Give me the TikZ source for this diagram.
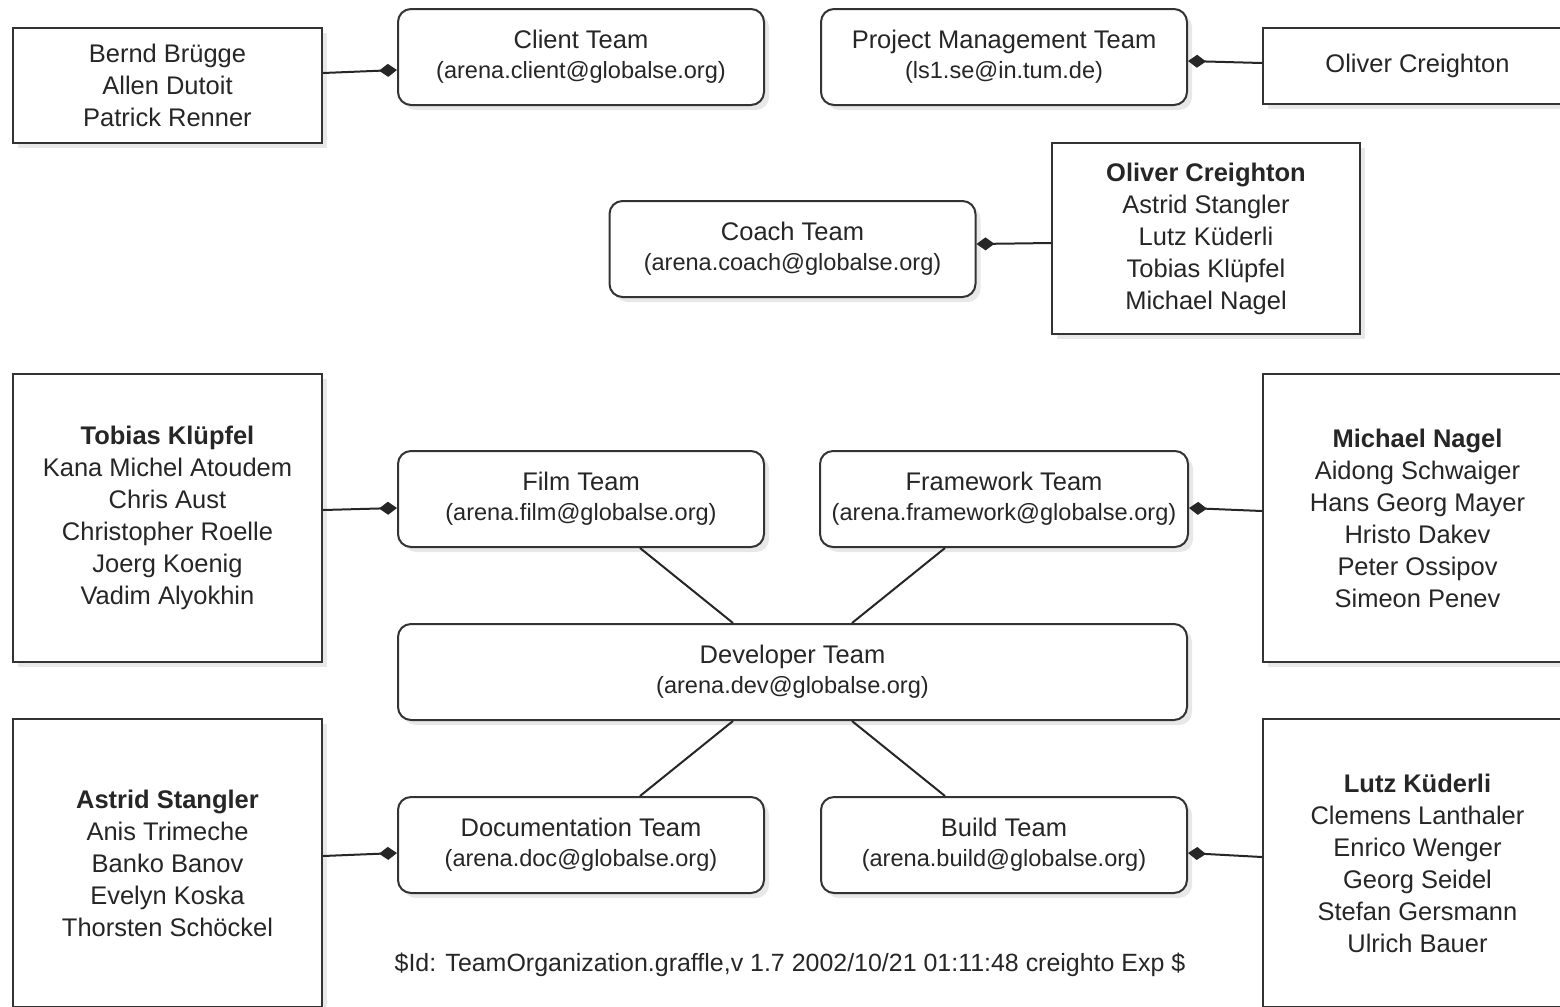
\documentclass[tikz,border=0pt]{standalone}
\usepackage{fontspec}
\setmainfont{Liberation Sans}
\usetikzlibrary{arrows.meta,shadows,calc}

\begin{document}
\begin{tikzpicture}[x=0.1mm, y=-0.1mm]

\tikzstyle{team} = [rectangle, rounded corners=1.3mm, minimum width=36.6mm, minimum height=9.6mm, text centered, align=center, draw=black!80, line width=0.2mm, fill=white, text=black!85, font=\fontsize{7.25}{8.5}\selectfont, drop shadow={shadow xshift=0.5mm, shadow yshift=-0.5mm, opacity=0.18}]
\tikzstyle{people} = [rectangle, minimum width=30.9mm, text centered, align=center, draw=black!80, line width=0.2mm, fill=white, text=black!85, font=\fontsize{7.25}{9.1}\selectfont, drop shadow={shadow xshift=0.5mm, shadow yshift=-0.5mm, opacity=0.18}]
\tikzstyle{member} = [line width=0.2mm, draw=black!85, -{Diamond[length=1.8mm, width=1.3mm]}]
\tikzstyle{sub} = [line width=0.2mm, draw=black!85]

\newcommand{\mail}[1]{{\fontsize{6.7}{8.5}\selectfont #1}}

\useasboundingbox (0,0) rectangle (1560,1006);
\clip (0,0) rectangle (1560,1006);

%% ------------------
%% -- MANAGEMENT    --
%% ------------------

% client and project management
\node (bernd) 		[people, minimum height=11.5mm] at (167.5,85.5) {Bernd Brügge\\Allen Dutoit\\Patrick Renner};
\node (client) 		[team] at (581,57) {Client Team\\\mail{(arena.client@globalse.org)}};
\node (pm) 			[team] at (1004,57) {Project Management Team\\\mail{(ls1.se@in.tum.de)}};
\node (oliver) 		[people, minimum height=7.6mm] at (1417.5,66) {Oliver Creighton};

% coaches
\node (coach) 		[team] at (792.5,249) {Coach Team\\\mail{(arena.coach@globalse.org)}};
\node (coaches) 	[people, minimum width=30.8mm, minimum height=19.1mm] at (1206,238.5) {\textbf{Oliver Creighton}\\Astrid Stangler\\Lutz Küderli\\Tobias Klüpfel\\Michael Nagel};

%% ------------------
%% -- DEVELOPMENT   --
%% ------------------

\node (tobias) 		[people, minimum height=28.8mm] at (167.5,518) {\textbf{Tobias Klüpfel}\\Kana Michel Atoudem\\Chris Aust\\Christopher Roelle\\Joerg Koenig\\Vadim Alyokhin};
\node (film) 		[team] at (581,499) {Film Team\\\mail{(arena.film@globalse.org)}};
\node (framework) 	[team] at (1004,499) {Framework Team\\\mail{(arena.framework@globalse.org)}};
\node (michael) 	[people, minimum height=28.8mm] at (1417.5,518) {\textbf{Michael Nagel}\\Aidong Schwaiger\\Hans Georg Mayer\\Hristo Dakev\\Peter Ossipov\\Simeon Penev};

\node (dev) 		[team, minimum width=78.9mm] at (792.5,672) {Developer Team\\\mail{(arena.dev@globalse.org)}};

\node (astrid) 		[people, minimum height=28.8mm] at (167.5,863) {\textbf{Astrid Stangler}\\Anis Trimeche\\Banko Banov\\Evelyn Koska\\Thorsten Schöckel};
\node (doc) 		[team] at (581,845) {Documentation Team\\\mail{(arena.doc@globalse.org)}};
\node (build) 		[team] at (1004,845) {Build Team\\\mail{(arena.build@globalse.org)}};
\node (lutz) 		[people, minimum height=28.8mm] at (1417.5,863) {\textbf{Lutz Küderli}\\Clemens Lanthaler\\Enrico Wenger\\Georg Seidel\\Stefan Gersmann\\Ulrich Bauer};

\node (rcsid) 		[text=black!85, font=\fontsize{7.1}{8.5}\selectfont] at (790,965) {\$Id: TeamOrganization.graffle,v 1.7 2002/10/21 01:11:48 creighto Exp \$};

% members
\draw [member] ([yshift=1.25mm]bernd.east) -- ([yshift=-1.3mm]client.west);
\draw [member] ([yshift=0.3mm]oliver.west) -- ([yshift=-0.4mm]pm.east);
\draw [member] ([yshift=-0.45mm]coaches.west) -- ([yshift=0.5mm]coach.east);
\draw [member] ([yshift=0.8mm]tobias.east) -- ([yshift=-0.9mm]film.west);
\draw [member] ([yshift=0.7mm]michael.west) -- ([yshift=-0.9mm]framework.east);
\draw [member] ([yshift=0.7mm]astrid.east) -- ([yshift=-0.8mm]doc.west);
\draw [member] ([yshift=0.6mm]lutz.west) -- ([yshift=-0.8mm]build.east);

% subteams
\draw [sub] ([xshift=5.9mm]film.south) -- ([xshift=-5.95mm]dev.north);
\draw [sub] ([xshift=-5.9mm]framework.south) -- ([xshift=5.95mm]dev.north);
\draw [sub] ([xshift=5.9mm]doc.north) -- ([xshift=-5.95mm]dev.south);
\draw [sub] ([xshift=-5.9mm]build.north) -- ([xshift=5.95mm]dev.south);

\end{tikzpicture}
\end{document}
